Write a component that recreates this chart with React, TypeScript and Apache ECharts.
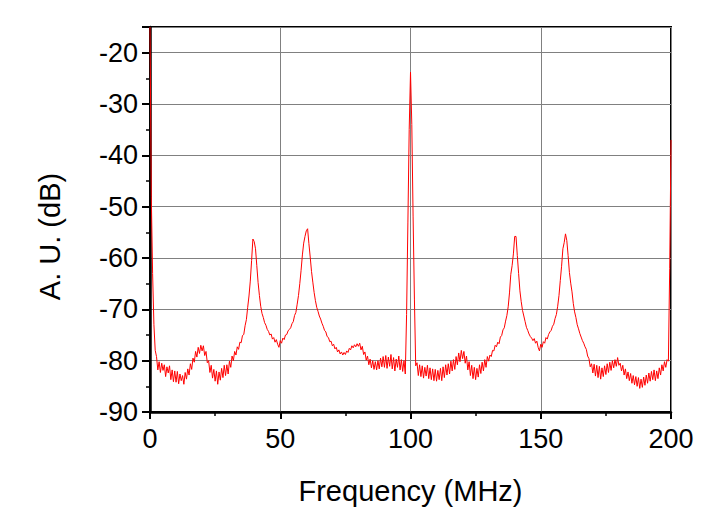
import React, { useEffect, useRef } from "react";
import * as echarts from "echarts";

// Frequency grid of the trace (MHz)
const FREQ_START = 0;
const FREQ_STEP = 0.5;

// Amplitude (dB), 0.5 MHz apart
const AMP_000_010 = [-15, -48, -63, -73, -78, -79.2, -81.8, -80.2, -82.3, -80.5, -81.9, -80.8, -83.1, -81.2, -82.4, -81, -83.7, -81.8, -84.1, -82];
const AMP_010_020 = [-84.2, -82.1, -84.5, -82.6, -83.9, -82.9, -84.6, -82.3, -83.6, -81.6, -82.8, -80.6, -81.7, -79.5, -80.3, -78.2, -79.3, -77.4, -78.6, -77];
const AMP_020_030 = [-78.1, -77.1, -79, -78.2, -80.4, -80, -82.3, -80.9, -83.4, -81.7, -84, -82, -84.6, -82.2, -83.8, -81.5, -83.3, -80.9, -82.9, -80.8];
const AMP_030_040 = [-82.6, -80.1, -81.3, -79.1, -80, -78.2, -78.9, -77.3, -77.8, -76.4, -76.5, -75.1, -74.9, -73.2, -72, -69.6, -67.4, -64.5, -60.5, -56.3];
const AMP_040_050 = [-56.8, -58.2, -61.5, -64.8, -67.3, -69.4, -70.8, -71.6, -72.6, -73.1, -73.9, -74.3, -75, -74.8, -75.8, -75.5, -76.4, -75.9, -76.8, -77.4];
const AMP_050_060 = [-76.1, -76.6, -75.6, -75.9, -75, -74.9, -74.2, -73.9, -73.6, -72.8, -72.4, -71.2, -70.6, -69, -67.3, -65, -62.4, -59.4, -57.1, -55.8];
const AMP_060_070 = [-54.7, -54.3, -57.2, -59.8, -62.6, -64.7, -66.7, -68.3, -69.6, -70.4, -71.3, -71.9, -72.7, -73.3, -74.1, -74.4, -75.3, -75.5, -76.3, -76.2];
const AMP_070_080 = [-77.1, -76.8, -77.7, -77.4, -78.3, -77.9, -78.7, -78.3, -78.9, -78.4, -78.8, -78.1, -78.4, -77.6, -77.9, -77.1, -77.5, -76.9, -77.3, -76.7];
const AMP_080_090 = [-77.2, -76.6, -77.9, -77.2, -78.8, -78.3, -79.9, -79.1, -80.8, -79.7, -81.4, -80, -81.7, -80.2, -81.8, -80, -81.6, -79.5, -81.2, -79.2];
const AMP_090_100 = [-81.3, -79, -81.5, -79.3, -81.1, -78.8, -81.6, -79.4, -82, -79.7, -81.3, -79.1, -81.8, -79.8, -82.1, -80, -82.6, -71, -53, -35];
const AMP_100_110 = [-23.8, -34, -52, -68, -81, -80.4, -82.9, -80.8, -83.1, -81, -83.4, -81.3, -83, -80.9, -83.5, -81.4, -83.7, -81.6, -83.9, -81.7];
const AMP_110_120 = [-84, -81.9, -83.7, -81.5, -83.9, -81.2, -83.3, -80.8, -82.8, -80.6, -82.6, -80.1, -82, -79.8, -81.7, -79.2, -80.8, -78.5, -80.2, -78];
const AMP_120_130 = [-79.6, -78.2, -80.5, -79.1, -81.8, -80.2, -82.9, -80.9, -83.5, -81.3, -83.7, -81.5, -83.2, -80.8, -82.5, -80.3, -82, -79.8, -81.3, -79.2];
const AMP_130_140 = [-80.1, -78.9, -79.2, -78, -78.1, -77, -77.3, -76.4, -76.7, -75.4, -75.1, -74, -73.6, -72.3, -71.2, -69.5, -66.8, -63.2, -61.5, -59.2];
const AMP_140_150 = [-55.8, -55.8, -59.5, -63, -66.4, -68.5, -70.2, -71.3, -72.4, -73.5, -74.1, -74.8, -75.3, -75.6, -76.1, -75.7, -76.6, -76.2, -77.4, -78.1];
const AMP_150_160 = [-76.8, -77.4, -76.3, -76.6, -75.5, -75.8, -74.9, -74.4, -74.1, -73.3, -72.9, -71.8, -71, -69.4, -67.3, -64.4, -61.6, -58.2, -57, -55.3];
const AMP_160_170 = [-56.6, -59.5, -62.8, -64.9, -66.6, -68.9, -70.5, -71.6, -73, -73.8, -74.7, -75.4, -76.1, -76.6, -77.3, -77.8, -79.1, -79.6, -81.2, -80.6];
const AMP_170_180 = [-82.4, -80.7, -83, -80.9, -83.3, -81.1, -83.6, -81.4, -83.1, -81, -82.7, -80.6, -82.3, -80.3, -81.9, -80, -81.4, -79.8, -81.1, -79.4];
const AMP_180_190 = [-80.9, -80.5, -82, -80.9, -82.8, -81.6, -83.5, -82.2, -83.9, -82.5, -84.4, -82.9, -84.7, -83.1, -85, -83.3, -85.4, -83.6, -85.2, -83.2];
const AMP_190_200 = [-84.8, -82.8, -84.4, -82.4, -84, -82.1, -83.7, -81.8, -83.9, -82, -83.5, -81.4, -82.8, -80.8, -82, -80.2, -81.3, -79.8, -80.1, -62];
const AMP_200 = [-37];

const AMPLITUDE = [
  ...AMP_000_010, ...AMP_010_020, ...AMP_020_030, ...AMP_030_040, ...AMP_040_050,
  ...AMP_050_060, ...AMP_060_070, ...AMP_070_080, ...AMP_080_090, ...AMP_090_100,
  ...AMP_100_110, ...AMP_110_120, ...AMP_120_130, ...AMP_130_140, ...AMP_140_150,
  ...AMP_150_160, ...AMP_160_170, ...AMP_170_180, ...AMP_180_190, ...AMP_190_200,
  ...AMP_200,
];

const X_MIN = 0;
const X_MAX = 200;
const X_INTERVAL = 50;
const Y_MIN = -90;
const Y_MAX = -15;
const Y_INTERVAL = 10;

const X_NAME = "Frequency (MHz)";
const Y_NAME = "A. U. (dB)";

const FONT = "'Liberation Sans', Arial, sans-serif";

export default function App() {
  const ref = useRef<HTMLDivElement>(null);

  useEffect(() => {
    if (!ref.current) return;
    const chart = echarts.init(ref.current, undefined, { renderer: "svg" });
    const data = AMPLITUDE.map((v, i) => [FREQ_START + i * FREQ_STEP, v]);

    chart.setOption({
      animation: false,
      backgroundColor: "#ffffff",
      grid: {
        left: 150,
        right: 48,
        top: 27,
        bottom: 101,
        show: true,
        borderColor: "#000",
        borderWidth: 2,
        containLabel: false,
      },
      xAxis: {
        type: "value",
        min: X_MIN,
        max: X_MAX,
        interval: X_INTERVAL,
        name: X_NAME,
        nameLocation: "middle",
        nameGap: 64,
        nameTextStyle: { fontFamily: FONT, fontSize: 29, color: "#000" },
        axisLine: { show: true, onZero: false, lineStyle: { color: "#000", width: 2.5 } },
        axisTick: { show: true, inside: false, length: 7, lineStyle: { color: "#000", width: 2 } },
        minorTick: { show: true, splitNumber: 2, length: 4, lineStyle: { color: "#000", width: 1.5 } },
        axisLabel: { margin: 13, fontFamily: FONT, fontSize: 27, color: "#000" },
        splitLine: { show: true, lineStyle: { color: "#808080", width: 1 } },
      },
      yAxis: {
        type: "value",
        min: Y_MIN,
        max: Y_MAX,
        interval: Y_INTERVAL,
        name: Y_NAME,
        nameLocation: "middle",
        nameGap: 86,
        nameRotate: 90,
        nameTextStyle: { fontFamily: FONT, fontSize: 29, color: "#000", padding: [0, 34, 0, 0] },
        axisLine: { show: true, onZero: false, lineStyle: { color: "#000", width: 2.5 } },
        axisTick: { show: true, inside: false, length: 8, lineStyle: { color: "#000", width: 2 } },
        minorTick: { show: true, splitNumber: 2, length: 4, lineStyle: { color: "#000", width: 1.5 } },
        axisLabel: { margin: 12, fontFamily: FONT, fontSize: 27, color: "#000", showMaxLabel: false },
        splitLine: { show: true, lineStyle: { color: "#808080", width: 1 } },
      },
      series: [
        {
          type: "line",
          data,
          showSymbol: false,
          symbol: "none",
          clip: true,
          lineStyle: { color: "#ff0000", width: 1 },
          z: 3,
        },
      ],
    });

    return () => chart.dispose();
  }, []);

  return (
    <div
      ref={ref}
      style={{ position: "fixed", left: 0, top: 0, width: 719, height: 513, background: "#fff" }}
    />
  );
}
